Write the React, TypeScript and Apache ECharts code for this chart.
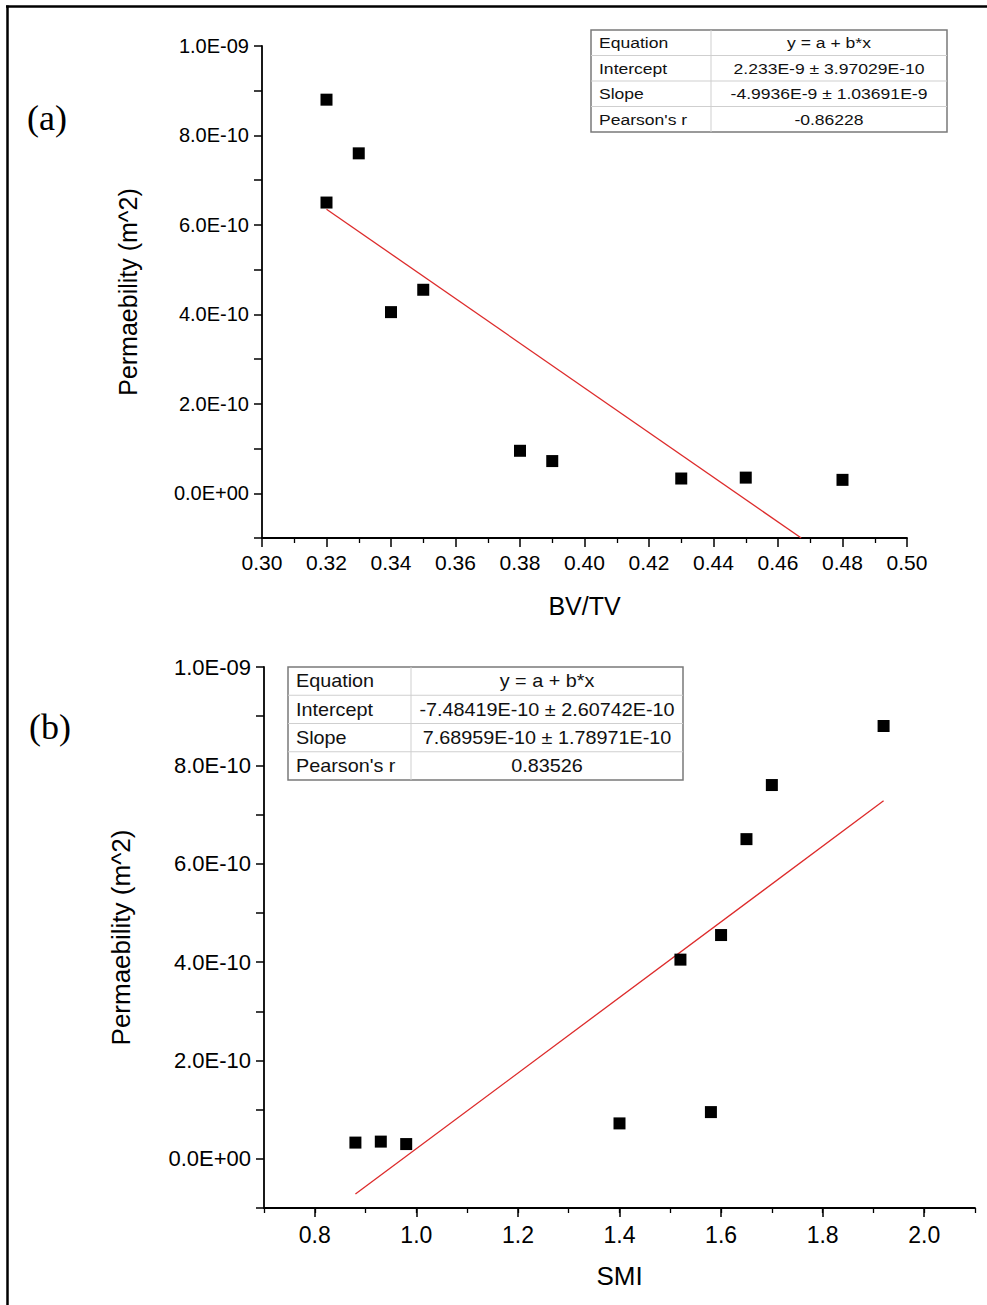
import React, { useEffect, useRef } from "react";
import * as echarts from "echarts";

// Permeability values in units of 1E-10 m^2
const permeabilityE10 = [8.8, 7.6, 6.5, 4.05, 4.55, 0.95, 0.72, 0.33, 0.35, 0.3];
const bvtv = [0.32, 0.33, 0.32, 0.34, 0.35, 0.38, 0.39, 0.43, 0.45, 0.48];
const smi = [1.92, 1.7, 1.65, 1.52, 1.6, 1.58, 1.4, 0.88, 0.93, 0.98];

// Linear fits (intercept and slope in units of 1E-10 m^2)
const fitA = { intercept: 22.33, slope: -49.936, xRange: [0.32, 0.4672] };
const fitB = { intercept: -7.48419, slope: 7.68959, xRange: [0.88, 1.92] };

const tableARows = [
  ["Equation", "y = a + b*x"],
  ["Intercept", "2.233E-9 ± 3.97029E-10"],
  ["Slope", "-4.9936E-9 ± 1.03691E-9"],
  ["Pearson's r", "-0.86228"],
];
const tableBRows = [
  ["Equation", "y = a + b*x"],
  ["Intercept", "-7.48419E-10 ± 2.60742E-10"],
  ["Slope", "7.68959E-10 ± 1.78971E-10"],
  ["Pearson's r", "0.83526"],
];

const xTicksB = [0.8, 1.0, 1.2, 1.4, 1.6, 1.8, 2.0];

const FONT = "'Liberation Sans', Arial, sans-serif";

function yFmt(v: number): string {
  const n = Math.round(v);
  if (n < 0 || n % 2 !== 0) return "";
  if (n === 0) return "0.0E+00";
  if (n >= 10) return (n / 10).toFixed(1) + "E-09";
  return n.toFixed(1) + "E-10";
}

function table(
  rows: string[][],
  x: number,
  y: number,
  w: number,
  col: number,
  rowH: number,
  fontSize: number,
  scaleX: number
) {
  const h = rowH * rows.length;
  const children: any[] = [
    {
      type: "rect",
      shape: { x, y, width: w, height: h },
      style: { fill: "#fff", stroke: "#7a7a7a", lineWidth: 1.5 },
    },
    {
      type: "line",
      shape: { x1: x + col, y1: y, x2: x + col, y2: y + h },
      style: { stroke: "#cfcfcf", lineWidth: 1 },
    },
  ];
  for (let i = 1; i < rows.length; i++) {
    children.push({
      type: "line",
      shape: { x1: x, y1: y + i * rowH, x2: x + w, y2: y + i * rowH },
      style: { stroke: "#cfcfcf", lineWidth: 1 },
    });
  }
  rows.forEach((r, i) => {
    const cy = y + i * rowH + rowH / 2;
    children.push({
      type: "text",
      x: x + 8,
      y: cy,
      scaleX,
      style: {
        text: r[0],
        font: `${fontSize}px ${FONT}`,
        fill: "#111",
        textAlign: "left",
        textVerticalAlign: "middle",
      },
    });
    children.push({
      type: "text",
      x: x + col + (w - col) / 2,
      y: cy,
      scaleX,
      style: {
        text: r[1],
        font: `${fontSize}px ${FONT}`,
        fill: "#111",
        textAlign: "center",
        textVerticalAlign: "middle",
      },
    });
  });
  return { type: "group", children };
}

export default function App() {
  const ref = useRef<HTMLDivElement>(null);
  useEffect(() => {
    if (!ref.current) return;
    const chart = echarts.init(ref.current, null, { renderer: "svg" });

    const axisLine = { show: true, onZero: false, lineStyle: { color: "#000", width: 1.8 } };
    const yAxisCommon = (gridIndex: number, fontSize: number, nameGap: number, nameSize: number) => ({
      type: "value",
      gridIndex,
      min: -1,
      max: 10,
      interval: 1,
      axisLine,
      axisTick: { show: true, length: 8, lineStyle: { color: "#000", width: 1.5 } },
      axisLabel: {
        formatter: yFmt,
        fontFamily: FONT,
        fontSize,
        color: "#000",
        margin: 13,
      },
      splitLine: { show: false },
      name: "Permaebility (m^2)",
      nameLocation: "middle",
      nameGap,
      nameTextStyle: { fontFamily: FONT, fontSize: nameSize, color: "#000" },
    });

    const fitAData = fitA.xRange.map((x) => [x, fitA.intercept + fitA.slope * x]);
    const fitBData = fitB.xRange.map((x) => [x, fitB.intercept + fitB.slope * x]);

    chart.setOption({
      animation: false,
      backgroundColor: "#fff",
      grid: [
        { left: 262, top: 46, width: 645, height: 492 },
        { left: 264, top: 667, width: 711, height: 541 },
      ],
      xAxis: [
        {
          type: "value",
          gridIndex: 0,
          min: 0.3,
          max: 0.5,
          interval: 0.02,
          axisLine,
          axisTick: { show: true, length: 9, lineStyle: { color: "#000", width: 1.5 } },
          minorTick: { show: true, splitNumber: 2, length: 5, lineStyle: { color: "#000", width: 1.3 } },
          axisLabel: {
            formatter: (v: number) => v.toFixed(2),
            fontFamily: FONT,
            fontSize: 21,
            color: "#000",
            margin: 14,
          },
          splitLine: { show: false },
          name: "BV/TV",
          nameLocation: "middle",
          nameGap: 55,
          nameTextStyle: { fontFamily: FONT, fontSize: 25, color: "#000" },
        },
        {
          type: "value",
          gridIndex: 1,
          min: 0.7,
          max: 2.1,
          interval: 0.1,
          axisLine,
          axisTick: { show: true, length: 5, lineStyle: { color: "#000", width: 1.3 } },
          axisLabel: {
            formatter: (v: number) => (Math.round(v * 10) % 2 === 0 ? v.toFixed(1) : ""),
            fontFamily: FONT,
            fontSize: 23,
            color: "#000",
            margin: 15,
          },
          splitLine: { show: false },
          name: "SMI",
          nameLocation: "middle",
          nameGap: 55,
          nameTextStyle: { fontFamily: FONT, fontSize: 26, color: "#000" },
        },
        {
          type: "value",
          gridIndex: 1,
          min: 0.7,
          max: 2.1,
          position: "bottom",
          axisLine: { show: false, onZero: false },
          axisTick: {
            show: true,
            length: 9,
            customValues: xTicksB,
            lineStyle: { color: "#000", width: 1.5 },
          },
          axisLabel: { show: false },
          splitLine: { show: false },
        },
      ],
      yAxis: [yAxisCommon(0, 20, 122, 25), yAxisCommon(1, 22, 130, 26)],
      series: [
        {
          type: "line",
          xAxisIndex: 0,
          yAxisIndex: 0,
          data: fitAData,
          showSymbol: false,
          lineStyle: { color: "#dd2b2b", width: 1.3 },
          z: 1,
        },
        {
          type: "scatter",
          xAxisIndex: 0,
          yAxisIndex: 0,
          data: bvtv.map((x, i) => [x, permeabilityE10[i]]),
          symbol: "rect",
          symbolSize: 12,
          itemStyle: { color: "#000", opacity: 1 },
          z: 2,
        },
        {
          type: "line",
          xAxisIndex: 1,
          yAxisIndex: 1,
          data: fitBData,
          showSymbol: false,
          lineStyle: { color: "#dd2b2b", width: 1.3 },
          z: 1,
        },
        {
          type: "scatter",
          xAxisIndex: 1,
          yAxisIndex: 1,
          data: smi.map((x, i) => [x, permeabilityE10[i]]),
          symbol: "rect",
          symbolSize: 12,
          itemStyle: { color: "#000", opacity: 1 },
          z: 2,
        },
      ],
      graphic: [
        {
          type: "line",
          shape: { x1: 6, y1: 6.5, x2: 987, y2: 6.5 },
          style: { stroke: "#000", lineWidth: 2.5 },
        },
        {
          type: "line",
          shape: { x1: 7.5, y1: 5.5, x2: 7.5, y2: 1305 },
          style: { stroke: "#000", lineWidth: 2.5 },
        },
        {
          type: "text",
          x: 27,
          y: 118,
          style: {
            text: "(a)",
            font: "36px 'Liberation Serif', 'Times New Roman', serif",
            fill: "#000",
            textVerticalAlign: "middle",
          },
        },
        {
          type: "text",
          x: 29,
          y: 727,
          style: {
            text: "(b)",
            font: "36px 'Liberation Serif', 'Times New Roman', serif",
            fill: "#000",
            textVerticalAlign: "middle",
          },
        },
        table(tableARows, 591, 30, 356, 120, 25.5, 15, 1.17),
        table(tableBRows, 288, 667, 395, 123, 28.25, 18, 1.1),
      ],
    });
    return () => chart.dispose();
  }, []);
  return (
    <div
      ref={ref}
      style={{ position: "absolute", left: 0, top: 0, width: 987, height: 1305 }}
    />
  );
}
